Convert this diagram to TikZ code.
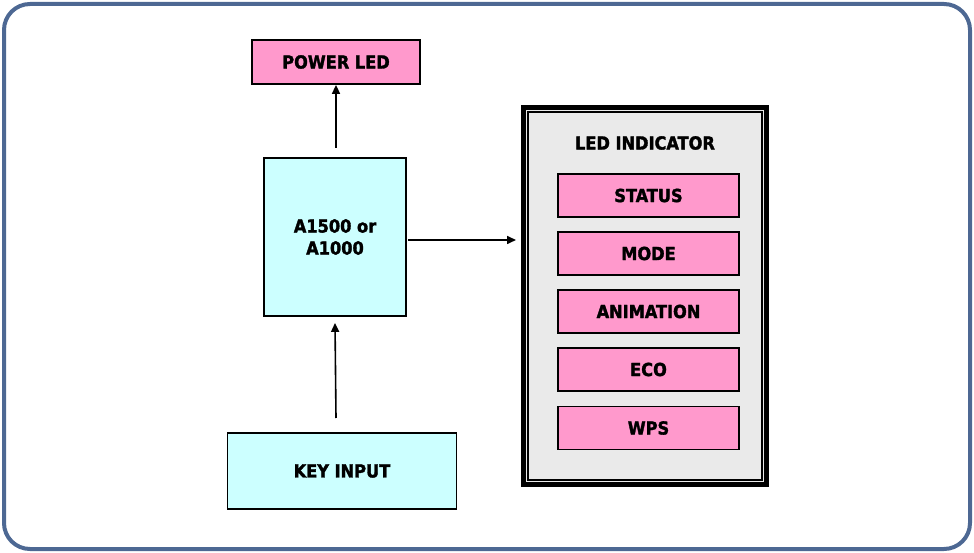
\documentclass[tikz,border=0pt]{standalone}
\usepackage{fontspec}
\setmainfont[BoldFeatures={FakeBold=1.8}]{DejaVu Sans Condensed}
\usetikzlibrary{arrows.meta}
\definecolor{framecol}{HTML}{4D6893}
\definecolor{ledpink}{HTML}{FF99CC}
\definecolor{chipcyan}{HTML}{CCFFFF}
\definecolor{panelgray}{HTML}{EAEAEA}
\begin{document}
\begin{tikzpicture}[x=1pt,y=-1pt,
  lbl/.style={font=\bfseries\fontsize{18}{22}\selectfont},
  pinkbox/.style={lbl,draw,line width=1.8pt,fill=ledpink,inner sep=0pt},
  cyanbox/.style={lbl,draw,line width=1.8pt,fill=chipcyan,inner sep=0pt,align=center},
  arr/.style={-{Triangle[length=9pt,width=8pt]},line width=1.6pt}]
  \useasboundingbox (0,0) rectangle (974,553);
  \draw[framecol,line width=4pt,fill=white,rounded corners=26pt] (4,4) rectangle (970,549);
  % left column
  \node[pinkbox,minimum width=168pt,minimum height=44pt] (pled) at (336,62) {POWER LED};
  \node[cyanbox,minimum width=142pt,minimum height=158pt] (chip) at (335,237) {A1500 or\\A1000};
  \node[cyanbox,minimum width=229pt,minimum height=76pt] (key) at (342,471) {KEY INPUT};
  % led panel
  \node[draw,line width=4.5pt,fill=panelgray,minimum width=243pt,minimum height=377pt] (panel) at (645,296) {};
  \draw[line width=1.6pt] ([shift={(6.5,6.5)}]panel.north west) rectangle ([shift={(-6.5,-6.5)}]panel.south east);
  \node[lbl] (ttl) at (645,143) {LED INDICATOR};
  \foreach \y/\t/\n in {195.5/STATUS/st,253.5/MODE/md,311.5/ANIMATION/an,369.5/ECO/ec,428/WPS/wp}
    \node[pinkbox,minimum width=181pt,minimum height=43pt] (\n) at (648.5,\y) {\t};
  \coordinate (a1) at (336,148);
  \coordinate (a2) at (336,418);
  \coordinate (a3) at (408,240);
  \coordinate (a4) at (516,240);
  \draw[arr] (a1) -- (pled.south);
  \draw[arr] (a2) -- ([yshift=-6pt]chip.south);
  \draw[arr] (a3) -- (a4);
\end{tikzpicture}
\end{document}
